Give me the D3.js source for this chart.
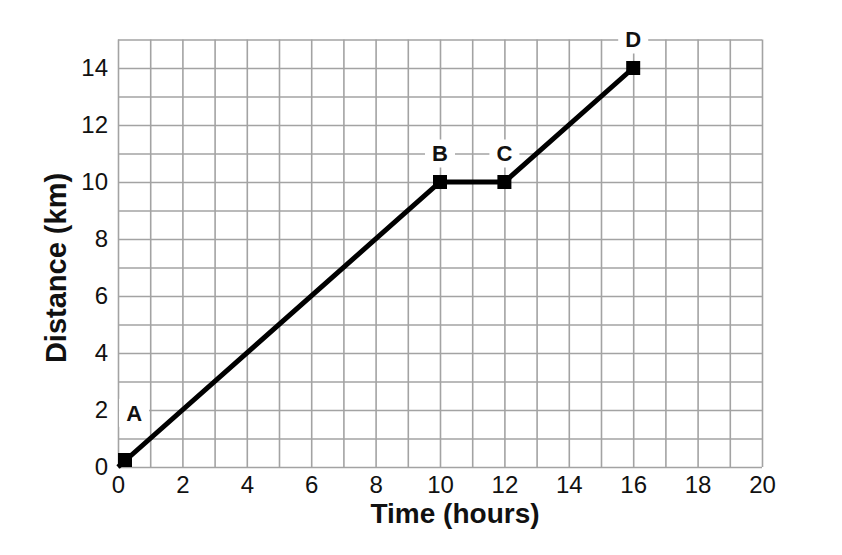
<!DOCTYPE html>
<html>
<head>
<meta charset="utf-8">
<script src="https://cdn.jsdelivr.net/npm/d3@7"></script>
<style>
  body { margin: 0; background: #fff; }
  svg text { font-family: "Liberation Sans", Arial, sans-serif; fill: #111; }
</style>
</head>
<body>
<div id="chart"></div>
<script>
// journey points
var timeHours = [0, 10, 12, 16];
var distanceKm = [0, 10, 10, 14];
var pointNames = ["A", "B", "C", "D"];
// where each letter sits (in data units)
var labelTime = [0.5, 10, 12, 16];
var labelDist = [1.9, 11, 11, 15];

var xTicks = [0, 2, 4, 6, 8, 10, 12, 14, 16, 18, 20];
var yTicks = [0, 2, 4, 6, 8, 10, 12, 14];

const w = 842;
const h = 555;
const plotLeft = 118, plotRight = 762, plotTop = 39.5, plotBottom = 467;
const markerSize = 14;
const gridColor = "#a3a3a3";

const xScale = d3.scaleLinear().domain([0, 20]).range([plotLeft, plotRight]);
const yScale = d3.scaleLinear().domain([0, 15]).range([plotBottom, plotTop]);

const svg = d3.select("#chart").append("svg")
    .attr("width", w)
    .attr("height", h);

// grid, one line per unit
const xGrid = d3.axisBottom(xScale).tickValues(d3.range(0, 21)).tickSize(-(plotBottom - plotTop)).tickFormat("");
const yGrid = d3.axisLeft(yScale).tickValues(d3.range(0, 16)).tickSize(-(plotRight - plotLeft)).tickFormat("");

svg.append("g")
    .attr("transform", "translate(0," + plotBottom + ")")
    .call(xGrid)
    .call(g => g.select(".domain").remove())
    .selectAll("line").attr("stroke", gridColor).attr("stroke-width", 1.6);

svg.append("g")
    .attr("transform", "translate(" + plotLeft + ",0)")
    .call(yGrid)
    .call(g => g.select(".domain").remove())
    .selectAll("line").attr("stroke", gridColor).attr("stroke-width", 1.6);

// tick labels
svg.append("g")
    .attr("transform", "translate(0," + plotBottom + ")")
    .call(d3.axisBottom(xScale).tickValues(xTicks).tickSize(0).tickPadding(9))
    .call(g => g.select(".domain").remove())
    .selectAll("text")
    .style("font-size", "24px")
    .attr("fill", "#111");

svg.append("g")
    .attr("transform", "translate(" + plotLeft + ",0)")
    .call(d3.axisLeft(yScale).tickValues(yTicks).tickSize(0).tickPadding(10))
    .call(g => g.select(".domain").remove())
    .selectAll("text")
    .style("font-size", "24px")
    .attr("fill", "#111");

var points = timeHours.map((t, i) => ({
    t: t,
    d: distanceKm[i],
    name: pointNames[i],
    lt: labelTime[i],
    ld: labelDist[i]
}));

// letter labels with white box that breaks the grid
var labels = svg.append("g").selectAll("g")
    .data(points)
    .enter()
    .append("g")
    .attr("transform", (p) => "translate(" + xScale(p.lt) + "," + yScale(p.ld) + ")");

labels.append("rect")
    .attr("x", -15)
    .attr("y", -14)
    .attr("width", 30)
    .attr("height", 28)
    .attr("fill", "#fff");

labels.append("text")
    .attr("text-anchor", "middle")
    .attr("dy", "0.36em")
    .style("font-size", "22px")
    .style("font-weight", "bold")
    .text((p) => p.name);

// the journey line
const line = d3.line()
    .x((p) => xScale(p.t))
    .y((p) => yScale(p.d));

svg.append("path")
    .datum(points)
    .attr("d", line)
    .attr("fill", "none")
    .attr("stroke", "#000")
    .attr("stroke-width", 5);

// square markers, kept inside the plot frame
svg.selectAll(".marker")
    .data(points)
    .enter()
    .append("rect")
    .attr("class", "marker")
    .attr("x", (p) => Math.max(xScale(p.t), plotLeft + markerSize / 2) - markerSize / 2)
    .attr("y", (p) => Math.min(yScale(p.d), plotBottom - markerSize / 2) - markerSize / 2)
    .attr("width", markerSize)
    .attr("height", markerSize)
    .attr("fill", "#000");

// axis titles
svg.append("text")
    .attr("x", 455)
    .attr("y", 523)
    .attr("text-anchor", "middle")
    .style("font-size", "28px")
    .style("font-weight", "bold")
    .text("Time (hours)");

svg.append("text")
    .attr("transform", "translate(66,268) rotate(-90)")
    .attr("text-anchor", "middle")
    .style("font-size", "29px")
    .style("font-weight", "bold")
    .text("Distance (km)");
</script>
</body>
</html>
